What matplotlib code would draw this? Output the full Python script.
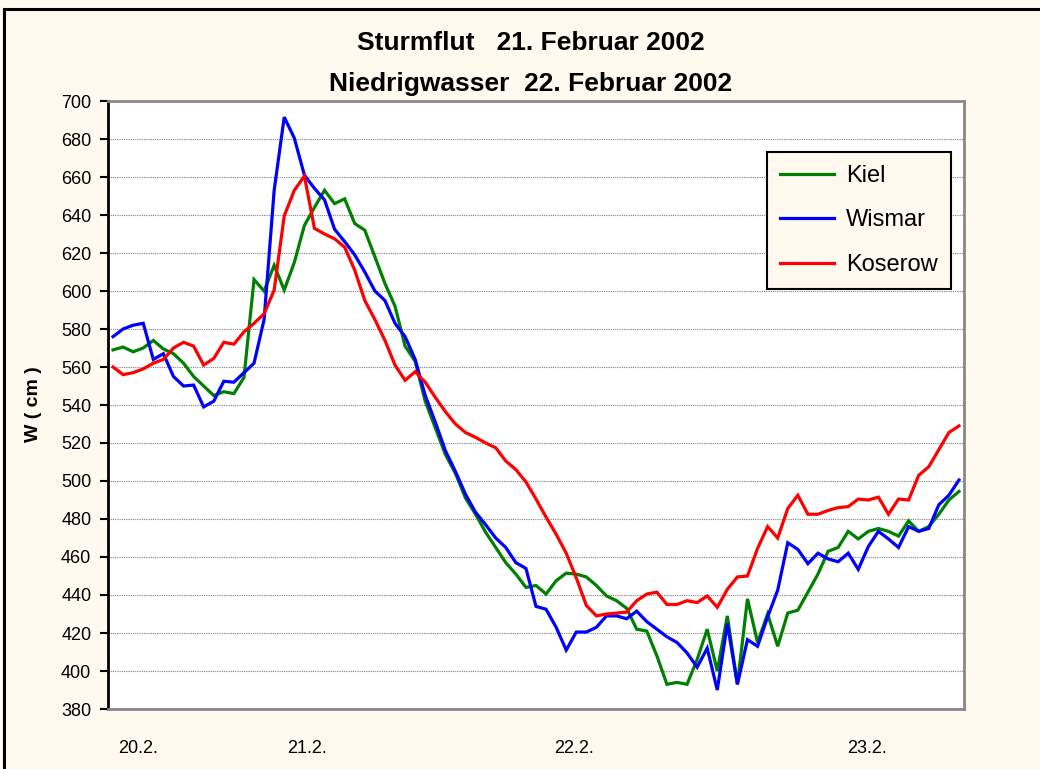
import matplotlib
matplotlib.use('Agg')
import matplotlib.pyplot as plt
from matplotlib.patches import Rectangle
import numpy as np

# water levels (cm), one value per time step from 20.2. to 23.2.
kiel = [569, 570.5, 568, 570, 574, 569.5, 567, 562, 555, 550,
        545, 547, 546, 554.5, 606, 600, 613.5, 600.5, 615, 634.5,
        644, 653, 646, 648.5, 635.5, 632, 618, 604, 592, 571,
        563, 542, 528, 514, 504, 491, 482.5, 473, 465, 457,
        451, 444, 445, 440.5, 447.5, 451.5, 451, 449.5, 445, 439.5,
        437, 433, 422, 421, 408, 393, 394, 393, 406, 422,
        400, 429, 393, 438, 415, 430, 413, 430.5, 432, 441.5,
        451, 463, 465, 473.5, 469.5, 473.5, 475, 473.5, 471, 479,
        473.5, 476, 482.5, 490, 494.5]
wismar = [576, 580, 582, 583, 564, 567, 555, 550, 550.5, 539,
          542, 552.5, 552, 557, 562, 585, 653, 691.5, 680.5, 661,
          654, 648, 632.5, 626, 619, 610, 600, 595, 583, 576,
          564, 545, 531, 516, 505, 493, 483.5, 477, 470, 465,
          457, 454, 434, 432.5, 423, 411, 420.5, 420.5, 423, 429,
          429, 427.5, 431.5, 426, 422, 418, 415, 409.5, 402, 412,
          390, 425, 393, 416.5, 413, 428.5, 442.5, 467.5, 464, 456.5,
          462, 459, 457.5, 462, 453.5, 465.5, 473.5, 469.5, 465, 476,
          473.5, 475, 487.5, 492.5, 500.5]
koserow = [560, 556, 557, 559, 562, 564, 570, 573, 571, 561,
           564.5, 573, 572, 578.5, 583, 588, 600.5, 639.5, 653, 660.5,
           633, 630, 627.5, 623, 611, 595, 585, 574, 561, 553,
           557.5, 552, 544, 536.5, 530, 525.5, 523, 520, 517.5, 510.5,
           506, 499.5, 490.5, 481, 472, 462, 449, 434.5, 429, 430,
           430.5, 431, 437, 440.5, 441.5, 435, 435, 437, 436, 439.5,
           433.5, 443, 449.5, 450, 464.5, 476, 470, 485.5, 492.5, 482.5,
           482.5, 484.5, 486, 486.5, 490.5, 490, 491.5, 482.5, 490.5, 490,
           503, 507.5, 516.5, 525.5, 529]

series_names = ['Kiel', 'Wismar', 'Koserow']
series_colors = ['#008000', '#0000FF', '#FF0000']

day_labels = ['20.2.', '21.2.', '22.2.', '23.2.']
day_positions = [2.5, 19.3, 45.8, 74.9]

bg = '#FFF9EF'

fig = plt.figure(figsize=(10.4, 7.69), dpi=100, facecolor=bg)
ax = fig.add_axes([108 / 1040, 1 - 709 / 769, 856 / 1040, 608 / 769])
ax.set_facecolor('white')

x = np.arange(len(kiel))
for values, name, color in zip([kiel, wismar, koserow], series_names, series_colors):
    ax.plot(x, values, color=color, lw=2.3, label=name, solid_joinstyle='miter')

ax.set_xlim(-0.5, len(kiel) - 0.5)
ax.set_ylim(380, 700)
ax.set_yticks(np.arange(380, 701, 20))
ax.set_xticks(day_positions)
ax.set_xticklabels(day_labels)
ax.tick_params(axis='x', length=0, pad=22, labelsize=13)
ax.tick_params(axis='y', length=6, width=1.5, color='black', labelsize=13, pad=6)
for lbl in ax.get_xticklabels() + ax.get_yticklabels():
    lbl.set_fontfamily('Liberation Sans')

ax.yaxis.grid(True, color='#808080', lw=0.8, linestyle=(0, (1, 1)))
ax.set_axisbelow(True)

ax.spines['left'].set_color('black')
ax.spines['left'].set_linewidth(2)
for side in ['top', 'right', 'bottom']:
    ax.spines[side].set_color('#888888')
    ax.spines[side].set_linewidth(2)

leg = ax.legend(loc='upper left', bbox_to_anchor=(767 / 1040, 1 - 152 / 769),
                bbox_transform=fig.transFigure, borderaxespad=0,
                fancybox=False, framealpha=1, facecolor=bg, edgecolor='black',
                prop={'family': 'Liberation Sans', 'size': 17},
                handlelength=2.3, handletextpad=0.5, labelspacing=0.95,
                borderpad=0.55)
leg.get_frame().set_linewidth(1.5)

fig.text(531 / 1040, 1 - 43 / 769, 'Sturmflut   21. Februar 2002', ha='center', va='center',
         fontsize=19, fontweight='bold', family='Liberation Sans')
fig.text(531 / 1040, 1 - 84 / 769, 'Niedrigwasser  22. Februar 2002', ha='center', va='center',
         fontsize=19, fontweight='bold', family='Liberation Sans')
fig.text(33 / 1040, 1 - 404 / 769, 'W ( cm )', rotation=90, ha='center', va='center',
         fontsize=14, fontweight='bold', family='Liberation Sans')

# outer chart frame
fig.patches.append(Rectangle((4 / 1040, -0.05), 1.1, 1.05 - 9 / 769, transform=fig.transFigure,
                             fill=False, edgecolor='black', lw=2.2))

fig.savefig('out.png', dpi=100, facecolor=bg)
